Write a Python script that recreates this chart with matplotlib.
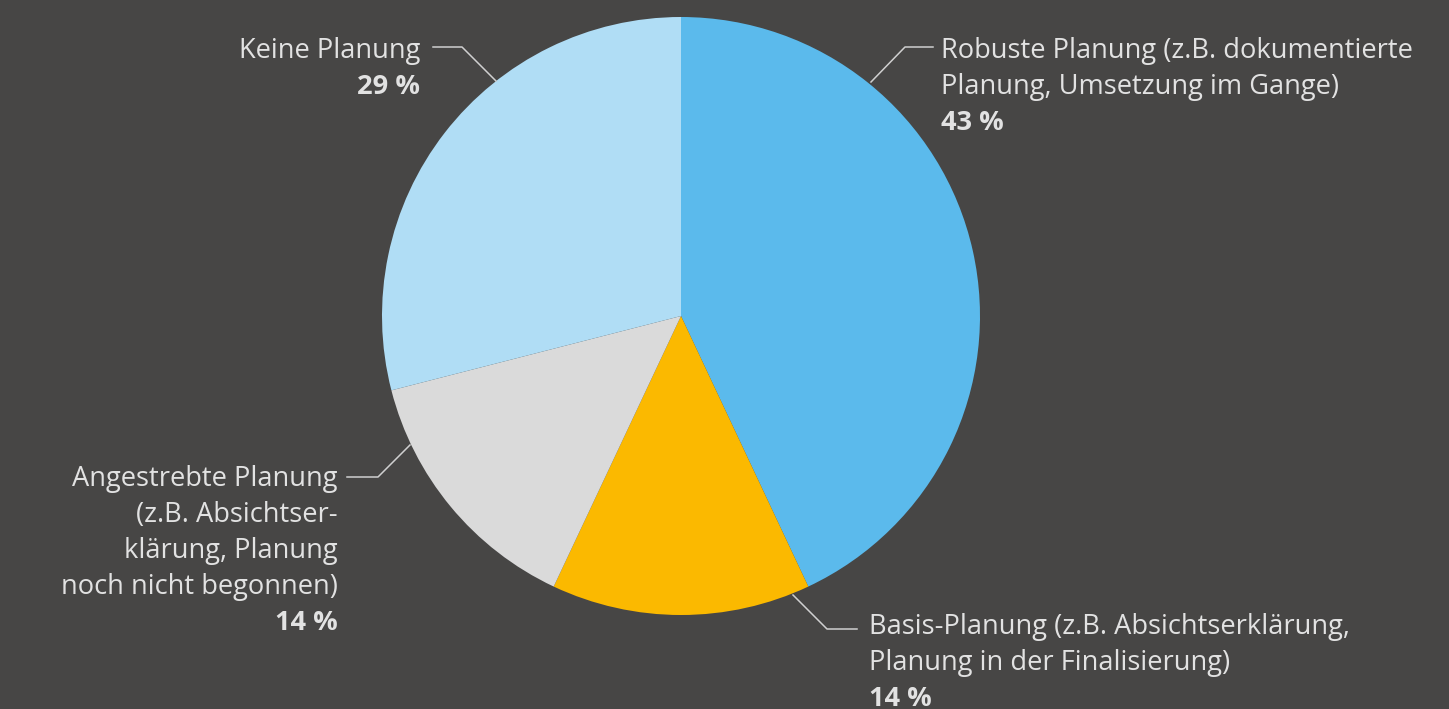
import matplotlib.pyplot as plt

# pie data (clockwise from 12 o'clock)
categories = [
    "Robuste Planung (z.B. dokumentierte\nPlanung, Umsetzung im Gange)",
    "Basis-Planung (z.B. Absichtserklärung,\nPlanung in der Finalisierung)",
    "Angestrebte Planung\n(z.B. Absichtser-\nklärung, Planung\nnoch nicht begonnen)",
    "Keine Planung",
]
shares = [43, 14, 14, 29]
colors = ["#5BBAEC", "#FBB900", "#DADADA", "#B0DDF5"]

BG = "#474645"
TXT = "#E2E2E2"
LINE = "#D0D0D0"
W, H = 1449, 709

fig = plt.figure(figsize=(W / 100, H / 100), dpi=100, facecolor=BG)
ax = fig.add_axes([0, 0, 1, 1])
ax.set_facecolor(BG)

ax.pie(shares, colors=colors, startangle=90, counterclock=False,
       center=(681, H - 316), radius=299, frame=True,
       wedgeprops=dict(linewidth=0))
ax.set_xlim(0, W)
ax.set_ylim(0, H)
ax.set_aspect("equal")
ax.axis("off")

# label layout: (x, first baseline y, ha, leader polyline) in pixel coords (y down)
layout = [
    (941, 58, "left", [(871, 82), (905, 47), (933, 47)]),
    (869, 634, "left", [(793, 595), (827, 629), (857, 629)]),
    (338, 486, "right", [(410, 445), (378, 477), (347, 477)]),
    (420, 58, "right", [(496, 81), (462, 47), (433, 47)]),
]
step = 36
font = dict(family=["Open Sans", "DejaVu Sans"], size=19.6, color=TXT)

for cat, val, (x, y0, ha, pts) in zip(categories, shares, layout):
    lines = cat.split("\n")
    for i, ln in enumerate(lines):
        ax.text(x, H - (y0 + i * step), ln, ha=ha, va="baseline",
                fontweight="normal", **font)
    ax.text(x, H - (y0 + len(lines) * step), f"{val} %", ha=ha,
            va="baseline", fontweight="bold", **font)
    ax.plot([p[0] for p in pts], [H - p[1] for p in pts], color=LINE, lw=1.1)

fig.savefig("out.png", dpi=100, facecolor=BG)
